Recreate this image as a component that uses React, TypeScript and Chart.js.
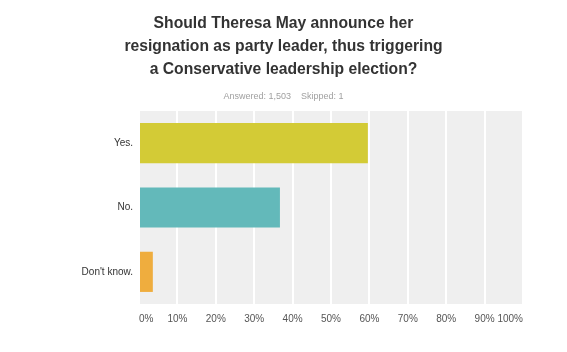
import React, { useEffect, useRef } from "react";
import { Chart, registerables } from "chart.js";

Chart.register(...registerables);

const categories = ["Yes.", "No.", "Don't know."];
const values = [59.6, 36.7, 3.6];
const barColors = ["#d3cb36", "#63b9ba", "#efad3e"];
const xTicks = [0, 10, 20, 30, 40, 50, 60, 70, 80, 90, 100];
const titleLines = [
  "Should Theresa May announce her",
  "resignation as party leader, thus triggering",
  "a Conservative leadership election?",
];
const subtitleText = "Answered: 1,503    Skipped: 1";

const plotBg = {
  id: "plotBg",
  beforeDraw(chart: any) {
    const { ctx, chartArea } = chart;
    if (!chartArea) return;
    ctx.save();
    ctx.fillStyle = "#efefef";
    ctx.fillRect(chartArea.left, chartArea.top, chartArea.right - chartArea.left, chartArea.bottom - chartArea.top);
    ctx.restore();
  },
};

export default function App() {
  const ref = useRef<HTMLCanvasElement>(null);
  useEffect(() => {
    document.body.style.margin = "0";
    const chart = new Chart(ref.current!, {
      type: "bar",
      data: {
        labels: categories,
        datasets: [
          {
            data: values,
            backgroundColor: barColors,
            borderWidth: 0,
            barPercentage: 0.625,
            categoryPercentage: 1,
          },
        ],
      },
      options: {
        indexAxis: "y",
        animation: false,
        responsive: false,
        layout: { padding: { left: 44, right: 44, top: 0, bottom: 18 } },
        plugins: {
          legend: { display: false },
          tooltip: { enabled: false },
          title: {
            display: true,
            text: titleLines,
            color: "#333333",
            font: { family: "'Liberation Sans', Arial, sans-serif", size: 15.7, weight: "bold", lineHeight: 1.47 },
            padding: { top: 12, bottom: 10 },
          },
          subtitle: {
            display: true,
            text: subtitleText,
            color: "#a0a0a0",
            font: { family: "'Liberation Sans', Arial, sans-serif", size: 9, lineHeight: 1.2 },
            padding: { top: 0, bottom: 9 },
          },
        },
        scales: {
          x: {
            type: "linear",
            min: 0,
            max: 100,
            afterBuildTicks(scale: any) {
              scale.ticks = xTicks.map((v) => ({ value: v }));
            },
            ticks: {
              callback: (v: any) => v + "%",
              color: "#555555",
              font: { family: "'Liberation Sans', Arial, sans-serif", size: 10 },
              padding: 9,
              maxRotation: 0,
              autoSkip: false,
              align: "inner",
            },
            grid: { color: "#ffffff", lineWidth: 2, drawTicks: false },
            border: { display: false },
          },
          y: {
            afterFit(scale: any) {
              scale.width = 95;
            },
            ticks: {
              color: "#333333",
              font: { family: "'Liberation Sans', Arial, sans-serif", size: 10 },
              padding: 6,
            },
            grid: { display: false, drawTicks: false },
            border: { display: false },
          },
        },
      },
      plugins: [plotBg],
    });
    return () => chart.destroy();
  }, []);
  return (
    <div style={{ width: 567, height: 352, background: "#ffffff" }}>
      <canvas ref={ref} width={567} height={352} style={{ display: "block" }} />
    </div>
  );
}
